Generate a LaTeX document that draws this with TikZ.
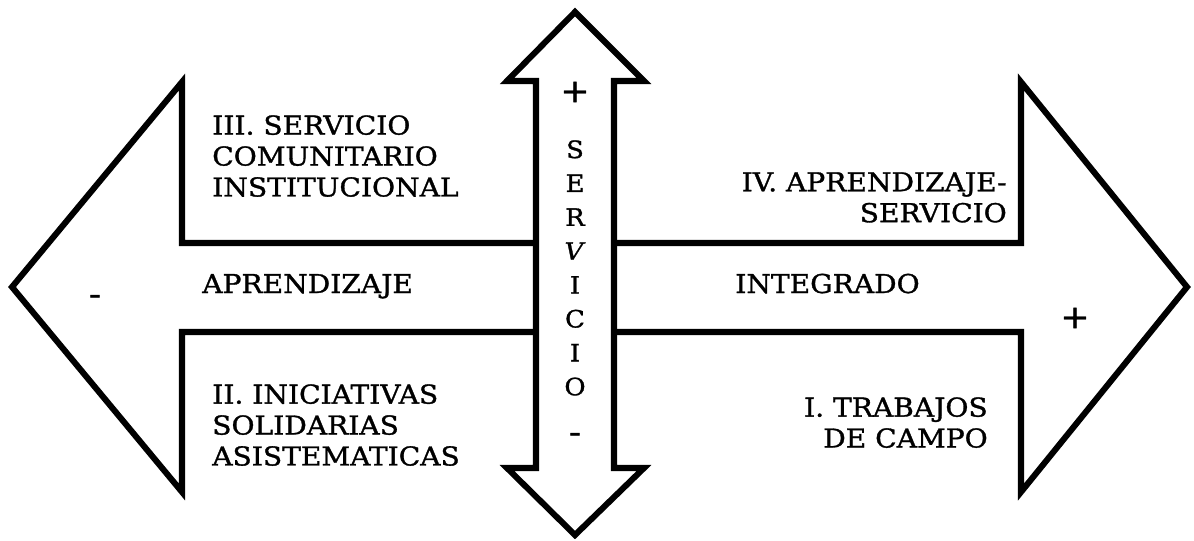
\documentclass[tikz,border=0pt]{standalone}
\usepackage{fontspec}
\setmainfont{DejaVu Serif}[FakeStretch=1.08,FakeBold=1.2]
\usetikzlibrary{positioning}

\tikzset{outline/.style={draw=black,line width=4.3pt,line join=miter}}

\begin{document}
\begin{tikzpicture}[x=0.025cm,y=-0.025cm]
        \useasboundingbox (0,0) rectangle (1194,540);
        % vertical arrow
        \draw[outline] (536,81) -- (507,81) -- (575,12) -- (644,81) -- (614,81)
          -- (614,468) -- (644,468) -- (575,535) -- (507,468) -- (536,468) -- cycle;
        % horizontal arrow, left and right halves
        \draw[outline] (536,243) -- (182,243) -- (182,82) -- (12,287) -- (182,492) -- (182,332) -- (536,332);
        \draw[outline] (614,243) -- (1021,243) -- (1021,82) -- (1187,287) -- (1021,492) -- (1021,332) -- (614,332);
        \begin{scope}[every node/.style={inner sep=0pt,font=\fontsize{18.5}{22}\selectfont}]
          \node[anchor=north west,align=left] (cuad3) at (212,115) {III. SERVICIO\\COMUNITARIO\\INSTITUCIONAL};
          \node[anchor=north west,align=left] (cuad2) at (212,384) {II. INICIATIVAS\\SOLIDARIAS\\ASISTEMATICAS};
          \node[anchor=north east,align=right] (cuad4) at (1007,172) {IV. APRENDIZAJE-\\SERVICIO};
          \node[anchor=north east,align=right] (cuad1) at (988,397) {I. TRABAJOS\\DE CAMPO};
          \node[anchor=base west] (apr) at (202,293) {APRENDIZAJE};
          \node[anchor=base west] (integ) at (735,293) {INTEGRADO};
        \end{scope}
        \begin{scope}[every node/.style={inner sep=0pt,font=\fontsize{23}{24}\selectfont}]
          \node (menosi) at (95,300) {-};
          \node (masd) at (1075,318) {+};
          \node (mass) at (575,92) {+};
          \node (menosb) at (575,438) {-};
        \end{scope}
        \node[inner sep=0pt,anchor=north,align=center,font=\fontsize{17}{24.1}\selectfont] (serv) at (575,140)
          {S\\E\\R\\\textit{V}\\I\\C\\I\\O};
      \end{tikzpicture}
\end{document}
